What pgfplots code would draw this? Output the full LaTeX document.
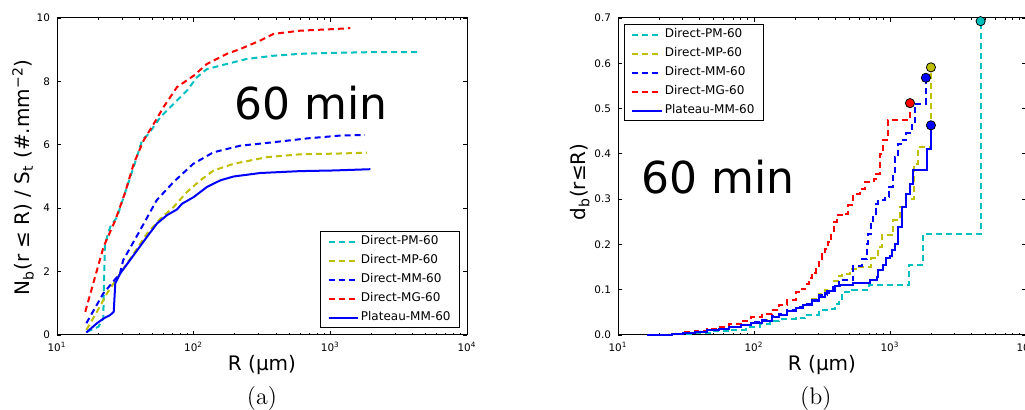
\documentclass[border=0pt]{standalone}
\usepackage{fontspec}
\usepackage{pgfplots}
\pgfplotsset{compat=1.18}
\newfontfamily\dv{DejaVu Sans}
\definecolor{mc}{rgb}{0,0.75,0.75}
\definecolor{my}{rgb}{0.75,0.75,0}
\definecolor{mb}{rgb}{0,0,1}
\definecolor{mr}{rgb}{1,0,0}
\tikzset{dsh/.style={dash pattern=on 3pt off 2pt, line width=1pt}, sol/.style={line width=1pt}}
\begin{document}
\begin{tikzpicture}
\path[use as bounding box] (0,0) rectangle (512.5pt,-205pt);
\clip (0,0) rectangle (512.5pt,-205pt);
% ---------------- (a) ----------------
\begin{axis}[
  scale only axis, width=205pt, height=158.5pt,
  at={(28.5pt,-167.5pt)}, anchor=south west,
  xmode=log, xmin=10, xmax=10000,
  xtick={10,100,1000,10000},
  xticklabels={10\textsuperscript{1},10\textsuperscript{2},10\textsuperscript{3},10\textsuperscript{4}},
  tick label style={font=\dv\fontsize{5.2}{6}\selectfont},
  /pgf/number format/assume math mode=true,
  major tick length=2pt, minor tick length=1pt,
  tick style={black, line width=0.4pt},
  axis line style={line width=0.5pt},
  label style={font=\dv\fontsize{10}{12}\selectfont},
  x label style={at={(axis description cs:0.5,-0.0946)},anchor=center},
  legend cell align=left,
  legend image code/.code={\draw[#1] (0pt,0pt) -- (10pt,0pt); \path (0pt,0pt) -- (14.7pt,0pt);},
  legend style={font=\dv\fontsize{6}{7}\selectfont, draw=black, line width=0.5pt,
    inner xsep=3.5pt, inner ysep=0.8pt, row sep=1.1pt,
    nodes={inner xsep=1pt, inner ysep=1.2pt, text height=4.6pt, text depth=1.4pt},
    at={(0.983,0.022)}, anchor=south east},
  clip=false,
  ymin=0, ymax=10, ytick={0,2,4,6,8,10},
  xlabel={R (µm)},
  ylabel={N\textsubscript{b}(r ≤ R) / S\textsubscript{t} (\#.mm\textsuperscript{−2})},
  y label style={at={(axis description cs:-0.083,0.497)}, anchor=center},
]
\addplot[mc, dsh, no marks] coordinates {
(16.5,0.1) (20.1,0.26) (21.8,0.52) (22.4,2.85) (24.5,3.41) (27.5,3.72) (32.5,4.67) (36.4,5.3) (41.9,6.14) (46.9,6.35) (57,6.87) (71.4,7.29) (89.3,7.71) (105.7,8.13) (125,8.39) (175,8.55) (245,8.71) (385,8.81) (603,8.87) (1057,8.90) (1854,8.92) (4430,8.92)};
\addlegendentry{Direct-PM-60}
\addplot[my, dsh, no marks] coordinates {
(16.4,0.16) (19.6,0.73) (23.2,1.31) (29,1.94) (36.4,2.57) (45.6,3.2) (57,3.67) (71.4,4.04) (89.3,4.51) (112,4.88) (140,5.19) (196,5.4) (344,5.61) (603,5.7) (1057,5.72) (1854,5.75)};
\addlegendentry{Direct-MP-60}
\addplot[mb, dsh, no marks] coordinates {
(16.4,0.37) (21.8,1.31) (28.9,1.94) (30.5,2.36) (40.5,3.30) (53.6,4.25) (71,4.82) (99.3,5.40) (139,5.76) (218,5.97) (382,6.08) (671,6.20) (1175,6.29) (1791,6.31)};
\addlegendentry{Direct-MM-60}
\addplot[mr, dsh, no marks] coordinates {
(16.1,0.73) (21.9,2.78) (26.7,3.62) (31.6,4.51) (36.4,5.4) (43,6.14) (51,6.66) (60.2,7.19) (75.5,7.82) (100,8.18) (125,8.55) (175,8.87) (219,9.02) (307,9.29) (385,9.50) (603,9.60) (1057,9.65) (1400,9.68)};
\addlegendentry{Direct-MG-60}
\addplot[mb, sol, no marks] coordinates {
(16.4,0.08) (19.6,0.37) (21.9,0.52) (24.5,0.63) (26,0.73) (26.7,1.63) (29,1.94) (36.4,2.52) (45.6,3.1) (54,3.52) (63.8,3.78) (75.5,3.96) (82.2,4.14) (100,4.35) (125,4.67) (157,4.88) (196,5.0) (307,5.11) (603,5.17) (1057,5.19) (1963,5.23)};
\addlegendentry{Plateau-MM-60}
\node[font=\dv\fontsize{22}{24}\selectfont] at (rel axis cs:0.62,0.732) {60 min};
\node[font=\fontsize{12}{14}\selectfont] at (rel axis cs:0.5,-0.199) {(a)};
\end{axis}
% ---------------- (b) ----------------
\begin{axis}[
  scale only axis, width=204pt, height=158.5pt,
  at={(309pt,-167.5pt)}, anchor=south west,
  xmode=log, xmin=10, xmax=10000,
  xtick={10,100,1000,10000},
  xticklabels={10\textsuperscript{1},10\textsuperscript{2},10\textsuperscript{3},10\textsuperscript{4}},
  tick label style={font=\dv\fontsize{5.2}{6}\selectfont},
  /pgf/number format/assume math mode=true,
  major tick length=2pt, minor tick length=1pt,
  tick style={black, line width=0.4pt},
  axis line style={line width=0.5pt},
  label style={font=\dv\fontsize{10}{12}\selectfont},
  x label style={at={(axis description cs:0.5,-0.0946)},anchor=center},
  legend cell align=left,
  legend image code/.code={\draw[#1] (0pt,0pt) -- (10pt,0pt); \path (0pt,0pt) -- (14.7pt,0pt);},
  legend style={font=\dv\fontsize{6}{7}\selectfont, draw=black, line width=0.5pt,
    inner xsep=3.5pt, inner ysep=0.8pt, row sep=1.1pt,
    nodes={inner xsep=1pt, inner ysep=1.2pt, text height=4.6pt, text depth=1.4pt},
    at={(0.0147,0.981)}, anchor=north west},
  clip=false,
  ymin=0, ymax=0.7, ytick={0,0.1,0.2,0.3,0.4,0.5,0.6,0.7},
  scaled y ticks=false,
  yticklabel style={/pgf/number format/fixed, /pgf/number format/fixed zerofill, /pgf/number format/precision=1},
  xlabel={R (µm)},
  ylabel={d\textsubscript{b}(r≤R)},
  y label style={at={(axis description cs:-0.093,0.483)}, anchor=center},
]
\addplot[mc, dsh, no marks, const plot] coordinates {
(16.3,0) (25,0.002) (35,0.004) (49.6,0.008) (66,0.012) (87,0.018) (110,0.024) (130,0.03) (152,0.035) (202,0.038) (239,0.045) (299,0.055) (354,0.058) (396,0.068) (420,0.08) (443,0.094) (525,0.1) (700,0.11) (1380,0.154) (1755,0.222) (4637,0.693)};
\addlegendentry{Direct-PM-60}
\addplot[my, dsh, no marks, const plot] coordinates {
(16.3,0) (20,0.001) (25,0.003) (30,0.005) (37,0.007) (45,0.01) (55,0.014) (66,0.018) (80,0.022) (95,0.027) (115,0.033) (135,0.04) (152,0.046) (175,0.053) (202,0.06) (230,0.068) (267,0.08) (300,0.09) (330,0.1) (385,0.12) (420,0.13) (443,0.135) (508,0.145) (560,0.151) (731,0.169) (821,0.195) (868,0.22) (1060,0.253) (1189,0.283) (1321,0.301) (1500,0.378) (1614,0.415) (2000,0.591)};
\addlegendentry{Direct-MP-60}
\addplot[mb, dsh, no marks, const plot] coordinates {
(16.3,0) (20,0.001) (25,0.003) (30,0.005) (37,0.008) (45,0.011) (55,0.014) (66,0.018) (80,0.023) (95,0.028) (115,0.034) (135,0.041) (152,0.047) (175,0.055) (202,0.062) (230,0.069) (267,0.078) (300,0.088) (345,0.098) (380,0.105) (420,0.122) (538,0.152) (620,0.167) (672,0.2) (693,0.224) (725,0.25) (755,0.268) (790,0.29) (821,0.298) (918,0.305) (985,0.327) (1050,0.36) (1086,0.393) (1150,0.422) (1250,0.43) (1321,0.445) (1440,0.463) (1526,0.511) (1837,0.568)};
\addlegendentry{Direct-MM-60}
\addplot[mr, dsh, no marks, const plot] coordinates {
(16.3,0) (20,0.001) (25,0.003) (30,0.006) (37,0.009) (45,0.013) (55,0.018) (66,0.024) (80,0.032) (95,0.039) (115,0.046) (135,0.055) (152,0.066) (175,0.078) (202,0.094) (220,0.102) (239,0.113) (255,0.125) (267,0.138) (285,0.152) (299,0.165) (315,0.178) (334,0.19) (350,0.205) (371,0.224) (388,0.25) (405,0.265) (453,0.268) (495,0.287) (536,0.312) (600,0.322) (655,0.337) (757,0.344) (793,0.356) (845,0.40) (890,0.43) (970,0.474) (1403,0.512)};
\addlegendentry{Direct-MG-60}
\addplot[mb, sol, no marks, const plot] coordinates {
(16.3,0) (20,0.001) (25,0.003) (30,0.005) (37,0.007) (45,0.01) (55,0.013) (66,0.017) (80,0.021) (95,0.026) (115,0.032) (135,0.039) (152,0.045) (175,0.052) (202,0.059) (230,0.066) (267,0.075) (300,0.085) (330,0.092) (354,0.097) (396,0.108) (430,0.11) (536,0.114) (710,0.121) (798,0.129) (820,0.143) (893,0.154) (942,0.17) (1000,0.175) (1026,0.187) (1086,0.202) (1150,0.239) (1217,0.283) (1321,0.312) (1403,0.334) (1488,0.364) (1880,0.411) (2000,0.463)};
\addlegendentry{Plateau-MM-60}
\addplot[only marks, mark=*, mark size=2.3pt, mark options={fill=mc, draw=black, line width=0.4pt}, forget plot] coordinates {(4637,0.693)};
\addplot[only marks, mark=*, mark size=2.3pt, mark options={fill=my, draw=black, line width=0.4pt}, forget plot] coordinates {(2000,0.591)};
\addplot[only marks, mark=*, mark size=2.3pt, mark options={fill=mb, draw=black, line width=0.4pt}, forget plot] coordinates {(1837,0.568)};
\addplot[only marks, mark=*, mark size=2.3pt, mark options={fill=mr, draw=black, line width=0.4pt}, forget plot] coordinates {(1403,0.512)};
\addplot[only marks, mark=*, mark size=2.3pt, mark options={fill=mb, draw=black, line width=0.4pt}, forget plot] coordinates {(2000,0.463)};
\node[font=\dv\fontsize{22}{24}\selectfont] at (rel axis cs:0.245,0.498) {60 min};
\node[font=\fontsize{12}{14}\selectfont] at (rel axis cs:0.485,-0.199) {(b)};
\end{axis}
\end{tikzpicture}
\end{document}
